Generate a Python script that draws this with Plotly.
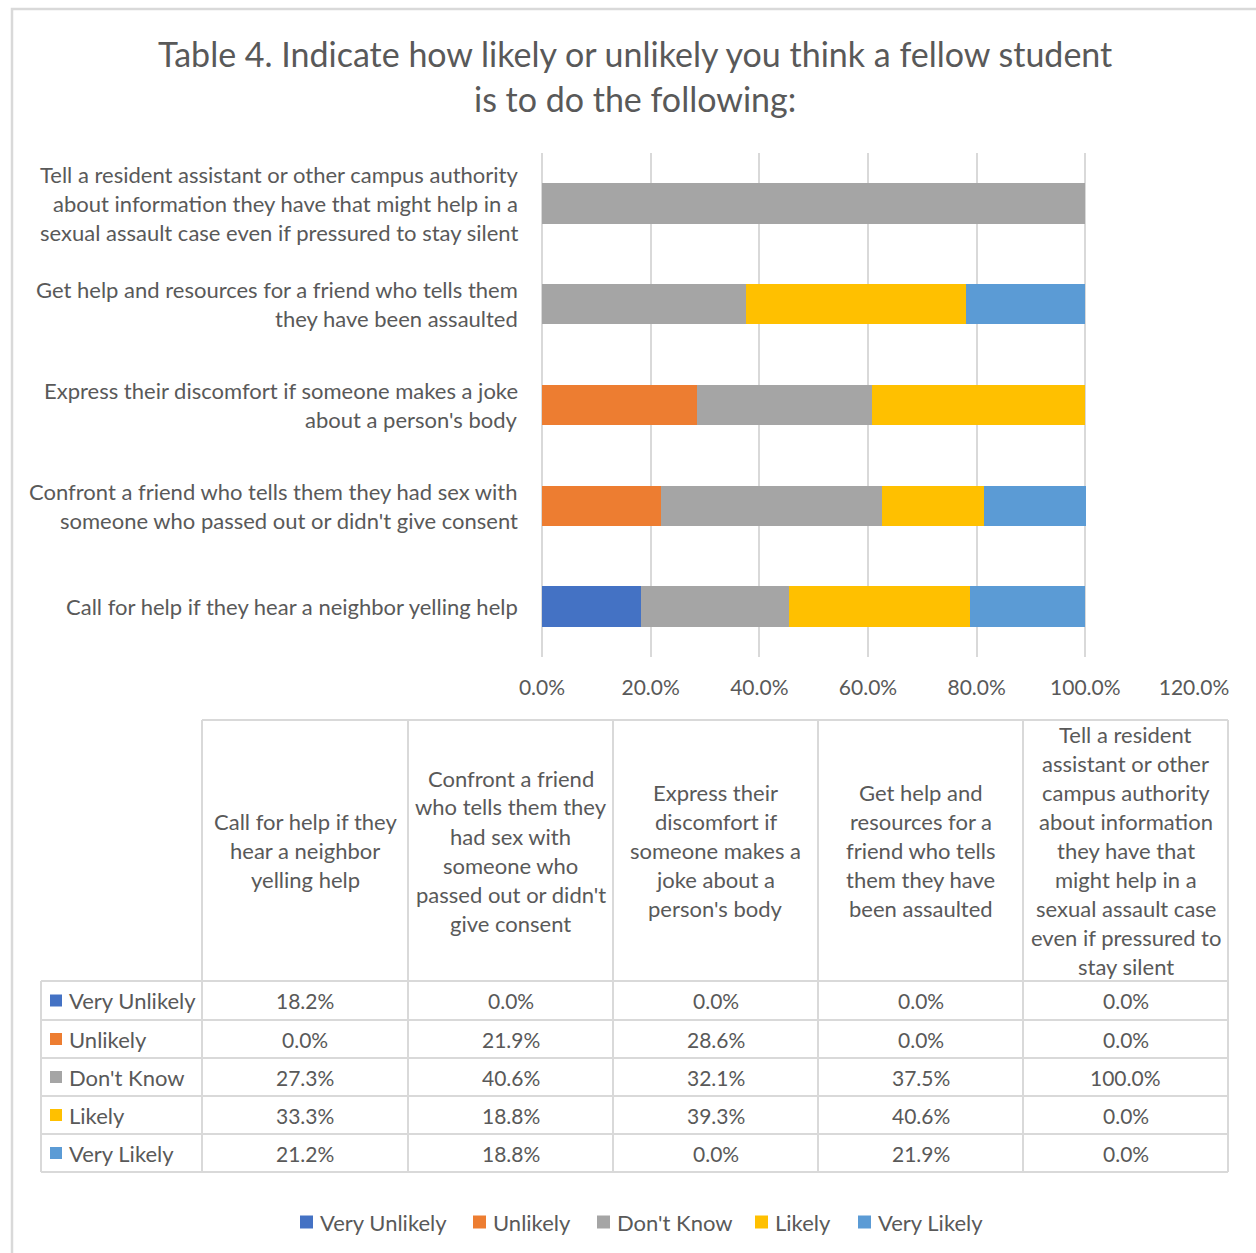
import plotly.graph_objects as go

# ---- data -------------------------------------------------------------
categories = [
    "Call for help if they hear a neighbor yelling help",
    "Confront a friend who tells them they had sex with someone who passed out or didn't give consent",
    "Express their discomfort if someone makes a joke about a person's body",
    "Get help and resources for a friend who tells them they have been assaulted",
    "Tell a resident assistant or other campus authority about information they have that might help in a sexual assault case even if pressured to stay silent",
]

# wrapped versions of the category names
axis_label_lines = [
    ["Call for help if they hear a neighbor yelling help"],
    ["Confront a friend who tells them they had sex with",
     "someone who passed out or didn't give consent"],
    ["Express their discomfort if someone makes a joke",
     "about a person's body"],
    ["Get help and resources for a friend who tells them",
     "they have been assaulted"],
    ["Tell a resident assistant or other campus authority",
     "about information they have that might help in a",
     "sexual assault case even if pressured to stay silent"],
]
header_label_lines = [
    ["Call for help if they", "hear a neighbor", "yelling help"],
    ["Confront a friend", "who tells them they", "had sex with", "someone who",
     "passed out or didn't", "give consent"],
    ["Express their", "discomfort if", "someone makes a", "joke about a", "person's body"],
    ["Get help and", "resources for a", "friend who tells", "them they have", "been assaulted"],
    ["Tell a resident", "assistant or other", "campus authority", "about information",
     "they have that", "might help in a", "sexual assault case", "even if pressured to",
     "stay silent"],
]

series_names = ["Very Unlikely", "Unlikely", "Don't Know", "Likely", "Very Likely"]
very_unlikely = [18.2, 0.0, 0.0, 0.0, 0.0]
unlikely = [0.0, 21.9, 28.6, 0.0, 0.0]
dont_know = [27.3, 40.6, 32.1, 37.5, 100.0]
likely = [33.3, 18.8, 39.3, 40.6, 0.0]
very_likely = [21.2, 18.8, 0.0, 21.9, 0.0]
series_values = [very_unlikely, unlikely, dont_know, likely, very_likely]
series_colors = ["#4472C4", "#ED7D31", "#A5A5A5", "#FFC000", "#5B9BD5"]

title_lines = ["Table 4. Indicate how likely or unlikely you think a fellow student",
               "is to do the following:"]

# ---- layout helpers (pixel -> paper) -----------------------------------
W, H = 1256, 1253
FONT = "Lato"
TXT = "#595959"
GRID = "#D9D9D9"
FS_WORDS = 22   # wrapped labels, legend names
FS_NUM = 21     # percentages


def fx(px):
    return px / W


def fy(py):
    return 1 - py / H


fig = go.Figure()

for name, vals, col in zip(series_names, series_values, series_colors):
    fig.add_trace(go.Bar(
        y=categories, x=vals, orientation="h", name=name,
        marker=dict(color=col, line=dict(width=0)), showlegend=False,
    ))

annotations = []
shapes = []

# title
for i, line in enumerate(title_lines):
    annotations.append(dict(
        x=fx(635), y=fy(53 + 45 * i), xref="paper", yref="paper",
        text=line, showarrow=False, xanchor="center", yanchor="middle",
        font=dict(family=FONT, size=34, color=TXT)))

# category labels beside the bars
for cat, lines in zip(categories, axis_label_lines):
    n = len(lines)
    for i, line in enumerate(lines):
        annotations.append(dict(
            x=fx(520), y=cat, xref="paper", yref="y", text=line,
            showarrow=False, xanchor="right", yanchor="middle",
            yshift=((n - 1) / 2 - i) * 29,
            font=dict(family=FONT, size=FS_WORDS, color=TXT)))

# ---- data table ---------------------------------------------------------
col_edges = [202, 408, 613, 818, 1023, 1228]
row_edges = [981, 1020, 1058, 1096, 1134, 1172]
header_top = 720
legend_left = 41

line_style = dict(color=GRID, width=2)
shapes.append(dict(type="line", xref="paper", yref="paper",
                   x0=fx(col_edges[0]), x1=fx(col_edges[-1]),
                   y0=fy(header_top), y1=fy(header_top), line=line_style))
for ry in row_edges:
    shapes.append(dict(type="line", xref="paper", yref="paper",
                       x0=fx(legend_left), x1=fx(col_edges[-1]),
                       y0=fy(ry), y1=fy(ry), line=line_style))
for cx in col_edges:
    shapes.append(dict(type="line", xref="paper", yref="paper",
                       x0=fx(cx), x1=fx(cx),
                       y0=fy(header_top), y1=fy(row_edges[-1]), line=line_style))
shapes.append(dict(type="line", xref="paper", yref="paper",
                   x0=fx(legend_left), x1=fx(legend_left),
                   y0=fy(row_edges[0]), y1=fy(row_edges[-1]), line=line_style))

# header cells
header_mid = (header_top + row_edges[0]) / 2
for c, lines in enumerate(header_label_lines):
    cx = (col_edges[c] + col_edges[c + 1]) / 2
    n = len(lines)
    for i, line in enumerate(lines):
        annotations.append(dict(
            x=fx(cx), y=fy(header_mid + (i - (n - 1) / 2) * 29),
            xref="paper", yref="paper", text=line, showarrow=False,
            xanchor="center", yanchor="middle",
            font=dict(family=FONT, size=FS_WORDS, color=TXT)))

# value rows with legend keys
for r, (name, vals, col) in enumerate(zip(series_names, series_values, series_colors)):
    ry = (row_edges[r] + row_edges[r + 1]) / 2
    shapes.append(dict(type="rect", xref="paper", yref="paper",
                       x0=fx(50), x1=fx(62), y0=fy(ry - 6), y1=fy(ry + 6),
                       fillcolor=col, line=dict(width=0)))
    annotations.append(dict(
        x=fx(67), y=fy(ry), xref="paper", yref="paper", text=name,
        showarrow=False, xanchor="left", yanchor="middle",
        font=dict(family=FONT, size=FS_WORDS, color=TXT)))
    for c, v in enumerate(vals):
        cx = (col_edges[c] + col_edges[c + 1]) / 2
        annotations.append(dict(
            x=fx(cx), y=fy(ry), xref="paper", yref="paper", text=f"{v:.1f}%",
            showarrow=False, xanchor="center", yanchor="middle",
            font=dict(family=FONT, size=FS_NUM, color=TXT)))

# legend row under the table
legend_x = [300, 473, 597, 755, 858]
legend_y = 1222
for lx, name, col in zip(legend_x, series_names, series_colors):
    shapes.append(dict(type="rect", xref="paper", yref="paper",
                       x0=fx(lx), x1=fx(lx + 13), y0=fy(legend_y - 6.5),
                       y1=fy(legend_y + 6.5), fillcolor=col, line=dict(width=0)))
    annotations.append(dict(
        x=fx(lx + 18), y=fy(legend_y), xref="paper", yref="paper", text=name,
        showarrow=False, xanchor="left", yanchor="middle",
        font=dict(family=FONT, size=FS_WORDS, color=TXT)))

# chart frame
shapes.append(dict(type="rect", xref="paper", yref="paper",
                   x0=fx(12), x1=fx(1270), y0=fy(9), y1=fy(1270),
                   line=dict(color=GRID, width=2.5), fillcolor="rgba(0,0,0,0)"))

fig.update_layout(
    width=W, height=H,
    margin=dict(l=0, r=0, t=0, b=0, autoexpand=False),
    paper_bgcolor="white", plot_bgcolor="white",
    barmode="stack", bargap=0.6, showlegend=False,
    font=dict(family=FONT, size=FS_NUM, color=TXT),
    xaxis=dict(domain=[fx(542), fx(1194)], range=[0, 120], dtick=20,
               tickformat=".1f", ticksuffix="%", showgrid=True, gridcolor=GRID,
               gridwidth=2, zeroline=True, zerolinecolor=GRID, zerolinewidth=2,
               showline=False, ticks="outside", ticklen=12, automargin=False,
               tickcolor="rgba(0,0,0,0)",
               tickfont=dict(family=FONT, size=FS_NUM, color=TXT), fixedrange=True),
    yaxis=dict(domain=[fy(657), fy(153)], range=[-0.5, 4.5], automargin=False,
               showticklabels=False, showgrid=False, zeroline=False,
               showline=False, fixedrange=True),
    annotations=annotations,
    shapes=shapes,
)

fig.write_html("out.html")
